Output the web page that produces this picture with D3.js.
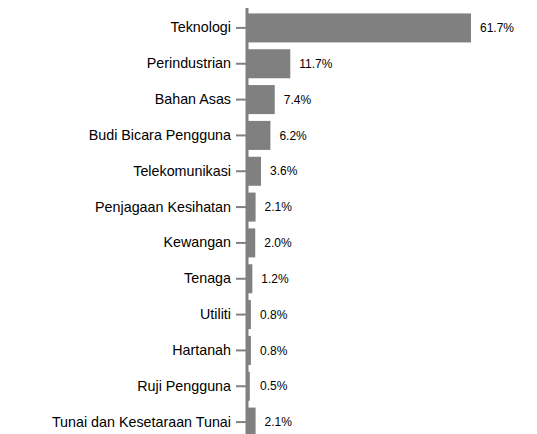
<!DOCTYPE html>
<html>
<head>
<meta charset="utf-8">
<script src="https://cdn.jsdelivr.net/npm/d3@7"></script>
<style>
  body { margin: 0; background: #fff; }
  svg { display: block; font-family: "Liberation Sans", Arial, sans-serif; }
</style>
</head>
<body>
<div id="chart"></div>
<script>
// Sektor dan peratusan
const sectors = ['Teknologi', 'Perindustrian', 'Bahan Asas', 'Budi Bicara Pengguna', 'Telekomunikasi',
  'Penjagaan Kesihatan', 'Kewangan', 'Tenaga', 'Utiliti', 'Hartanah', 'Ruji Pengguna',
  'Tunai dan Kesetaraan Tunai'];
const weights = [61.7, 11.7, 7.4, 6.2, 3.6, 2.1, 2.0, 1.2, 0.8, 0.8, 0.5, 2.1];

const width = 537, height = 434;
const axisX = 247;

const svg = d3.select('#chart')
  .append('svg')
  .attr('width', width)
  .attr('height', height);

// Escalas
const x = d3.scaleLinear()
  .domain([0, 61.7])
  .range([axisX + 1, 471]);

const y = d3.scaleBand()
  .domain(sectors)
  .range([10, 440])
  .paddingInner(0.19)
  .paddingOuter(0.095);

// Barras
svg.selectAll('rect.bar')
  .data(sectors)
  .enter()
  .append('rect')
  .attr('class', 'bar')
  .attr('x', x(0))
  .attr('y', d => y(d))
  .attr('width', (d, i) => x(weights[i]) - x(0))
  .attr('height', y.bandwidth())
  .attr('fill', '#808080');

// Eixo Y
const yAxis = svg.append('g')
  .attr('transform', `translate(${axisX},0)`)
  .call(d3.axisLeft(y).tickSize(11).tickPadding(5));

yAxis.select('.domain').remove();
yAxis.selectAll('line').attr('stroke', '#808080').attr('stroke-width', 2);
yAxis.selectAll('text')
  .attr('fill', '#000')
  .style('font-size', '14.3px')
  .style('font-family', '"Liberation Sans", Arial, sans-serif');

svg.append('line')
  .attr('x1', axisX).attr('x2', axisX)
  .attr('y1', 8).attr('y2', height)
  .attr('stroke', '#808080')
  .attr('stroke-width', 3);

// Rótulos de valor
svg.selectAll('text.val')
  .data(sectors)
  .enter()
  .append('text')
  .attr('class', 'val')
  .attr('x', (d, i) => Math.max(x(weights[i]), x(0) + 3) + 9)
  .attr('y', d => y(d) + y.bandwidth() / 2)
  .attr('dy', '0.35em')
  .style('font-size', '12px')
  .attr('fill', '#000')
  .text((d, i) => weights[i].toFixed(1) + '%');
</script>
</body>
</html>
